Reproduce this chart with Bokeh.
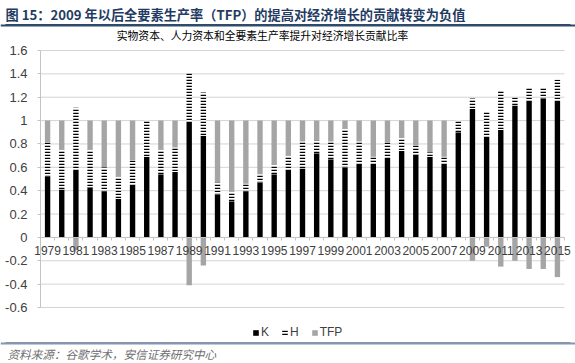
from bokeh.plotting import figure
from bokeh.models import (Range1d, FixedTicker, LinearAxis, Legend, LegendItem,
                          CustomJSTickFormatter)
from bokeh.core.properties import value
from bokeh.embed import file_html
from bokeh.resources import INLINE

# ---------------- data ----------------
title_text = "图 15：2009 年以后全要素生产率（TFP）的提高对经济增长的贡献转变为负值"
subtitle_text = "实物资本、人力资本和全要素生产率提升对经济增长贡献比率"
source_text = "资料来源：谷歌学术，安信证券研究中心"

years = list(range(1979, 2016))
K = [0.52, 0.41, 0.58, 0.43, 0.39, 0.33, 0.45, 0.69, 0.54, 0.56,
     0.99, 0.87, 0.37, 0.31, 0.39, 0.47, 0.54, 0.58, 0.59, 0.72,
     0.67, 0.60, 0.63, 0.62, 0.68, 0.74, 0.71, 0.69, 0.63, 0.90,
     1.10, 0.85, 0.92, 1.13, 1.17, 1.19, 1.17]
H = [0.29, 0.34, 0.53, 0.32, 0.21, 0.19, 0.21, 0.31, 0.21, 0.21,
     0.42, 0.37, 0.10, 0.08, 0.07, 0.07, 0.08, 0.12, 0.23, 0.11,
     0.15, 0.33, 0.19, 0.07, 0.13, 0.11, 0.08, 0.04, 0.06, 0.10,
     0.09, 0.23, 0.34, 0.07, 0.11, 0.09, 0.18]
TFP = [0.19, 0.25, -0.11, 0.25, 0.40, 0.48, 0.34, 0.00, 0.25, 0.23,
       -0.41, -0.24, 0.53, 0.61, 0.54, 0.46, 0.38, 0.30, 0.18, 0.17,
       0.18, 0.07, 0.18, 0.31, 0.19, 0.15, 0.21, 0.27, 0.31, 0.00,
       -0.20, -0.08, -0.25, -0.20, -0.27, -0.27, -0.34]
series_names = ["K", "H", "TFP"]
y_ticks = [-0.6, -0.4, -0.2, 0, 0.2, 0.4, 0.6, 0.8, 1.0, 1.2, 1.4, 1.6]
x_label_years = years[::2]

# ---------------- layout constants (pixels) ----------------
W, HGT = 575, 363
PLOT_L, PLOT_R, PLOT_T, PLOT_B = 40, 564, 50, 307   # chart area inside the canvas
X0, X1 = years[0] - 0.5, years[-1] + 0.5
Y0, Y1 = y_ticks[0], y_ticks[-1]
px_x = (PLOT_R - PLOT_L) / (X1 - X0)
px_y = (PLOT_B - PLOT_T) / (Y1 - Y0)


def fx(px):  # canvas pixel -> data x
    return X0 + (px - PLOT_L) / px_x


def fy(py):  # canvas pixel (from top) -> data y
    return Y1 - (py - PLOT_T) / px_y


LABEL_FONT = "Liberation Sans"
CJK = "Noto Sans CJK SC"
GRID = "#d4d4d4"
AXIS = "#c4c4c4"
RULE_TOP = "#2f4a6a"
RULE_BOTTOM = "#8497b0"

p = figure(width=W, height=HGT, title=None,
           x_range=Range1d(fx(0), fx(W)), y_range=Range1d(fy(HGT), fy(0)),
           x_axis_type=None, y_axis_type=None, toolbar_location=None,
           output_backend="svg", min_border=0, outline_line_color=None)

# header / footer rules
p.line(x=[fx(5), fx(570)], y=[fy(24.5), fy(24.5)], line_color=RULE_TOP, line_width=2)
p.line(x=[fx(5), fx(570)], y=[fy(342.5), fy(342.5)], line_color=RULE_BOTTOM, line_width=2)
try:
    p.hspan(y=[fy(24.5)], line_color=RULE_TOP, line_width=2)
    p.hspan(y=[fy(342.5)], line_color=RULE_BOTTOM, line_width=2)
except AttributeError:
    pass

# gridlines at the value ticks
p.segment(x0=[X0] * len(y_ticks), x1=[X1] * len(y_ticks), y0=y_ticks, y1=y_ticks,
          line_color=GRID, line_width=1)

# bars
h_top = [k + h for k, h in zip(K, H)]
tfp_bottom = [(kh if t >= 0 else t) for kh, t in zip(h_top, TFP)]
tfp_top = [(kh + t if t >= 0 else 0) for kh, t in zip(h_top, TFP)]
bw = 0.38
rk = p.vbar(x=years, bottom=0, top=K, width=bw, fill_color="#000000", line_color=None)
rh = p.vbar(x=years, bottom=K, top=h_top, width=bw, fill_color="#ffffff", line_color=None,
            hatch_pattern="horizontal_line", hatch_color="#000000", hatch_scale=3, hatch_weight=1.5)
rt = p.vbar(x=years, bottom=tfp_bottom, top=tfp_top, width=bw, fill_color="#a5a5a5", line_color=None)

# value axis
yaxis = LinearAxis(ticker=FixedTicker(ticks=y_ticks, minor_ticks=[]),
                   formatter=CustomJSTickFormatter(code="return Number(tick.toFixed(1)).toString();"))
yaxis.fixed_location = X0
yaxis.bounds = (Y0, Y1)
yaxis.major_tick_out = 3
yaxis.major_tick_in = 0
yaxis.minor_tick_out = 0
yaxis.major_tick_line_color = AXIS
yaxis.axis_line_color = AXIS
yaxis.major_label_text_font = LABEL_FONT
yaxis.major_label_text_font_size = "13px"
yaxis.major_label_text_color = "#404040"
yaxis.major_label_standoff = 10
p.add_layout(yaxis, "left")

# category axis at zero
xaxis = LinearAxis(ticker=FixedTicker(ticks=x_label_years,
                                      minor_ticks=[y - 0.5 for y in years] + [X1]))
xaxis.fixed_location = 0
xaxis.bounds = (X0, X1)
xaxis.major_tick_out = 0
xaxis.major_tick_in = 0
xaxis.minor_tick_out = 3
xaxis.minor_tick_in = 0
xaxis.minor_tick_line_color = AXIS
xaxis.axis_line_color = AXIS
xaxis.major_label_text_font = LABEL_FONT
xaxis.major_label_text_font_size = "12px"
xaxis.major_label_text_color = "#404040"
xaxis.major_label_standoff = 6
p.add_layout(xaxis, "below")

# legend
legend = Legend(items=[LegendItem(label=series_names[0], renderers=[rk]),
                       LegendItem(label=series_names[1], renderers=[rh]),
                       LegendItem(label=series_names[2], renderers=[rt])],
                orientation="horizontal", location=(252, 24),
                background_fill_alpha=0, border_line_color=None,
                label_text_font=LABEL_FONT, label_text_font_size="12px", label_text_color="#404040",
                glyph_width=7, glyph_height=7, label_standoff=2, spacing=12,
                padding=0, margin=0, label_height=12, label_width=8)
p.add_layout(legend, "center")

# header / footer texts
p.text(x=[fx(5)], y=[fy(14)], text=[title_text],
       text_font=value(CJK), text_font_style="bold", text_font_size="13.2px",
       text_color="#1f3b63", text_baseline="middle", text_align="left")
p.text(x=[fx(262)], y=[fy(34)], text=[subtitle_text],
       text_font=value(CJK), text_font_size="10.8px", text_color="#000000",
       text_baseline="middle", text_align="center")
p.text(x=[fx(7)], y=[fy(353)], text=[source_text],
       text_font=value(CJK), text_font_style="italic", text_font_size="11.6px",
       text_color="#6f6f6f", text_baseline="middle", text_align="left")

open("out.html", "w").write(file_html(p, INLINE))
